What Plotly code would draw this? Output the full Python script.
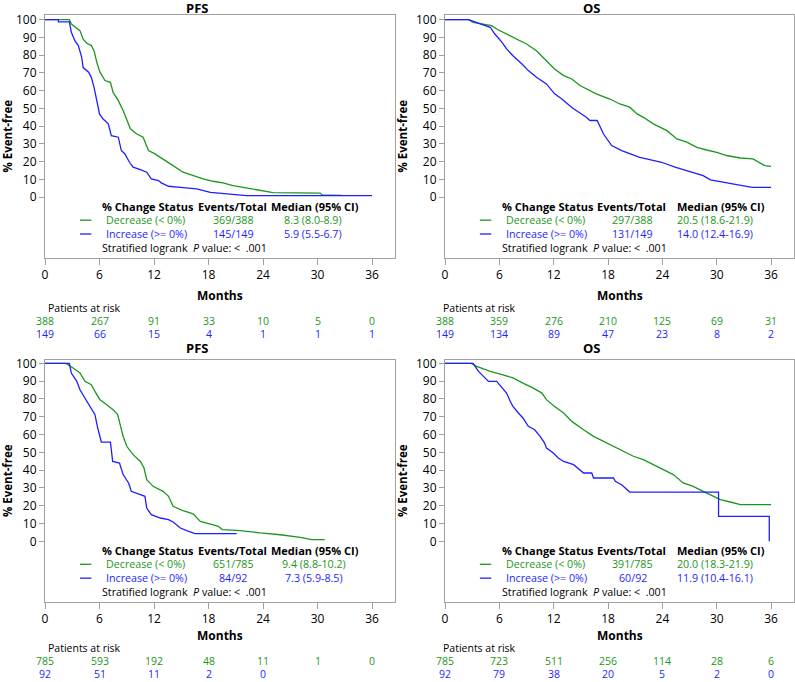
import plotly.graph_objects as go

# ---------------- data ----------------
months_ticks = [0, 6, 12, 18, 24, 30, 36]
pct_ticks = [0, 10, 20, 30, 40, 50, 60, 70, 80, 90, 100]
group_labels = ["Decrease (&lt; 0%)", "Increase (&gt;= 0%)"]
panel_titles = ["PFS", "OS", "PFS", "OS"]

# Panel 1: top-left PFS
p1_dec_t = [0, 2.68, 2.9, 3.85, 4.2, 4.6, 5.1, 5.4, 5.7, 6.05, 6.6, 7.2, 7.5, 8.07, 8.6, 9.06, 9.4, 10.1, 10.8, 11.1, 11.4,
            12.1, 13.0, 14.1, 15.2, 16.3, 17.4, 18.5, 19.6, 20.7, 21.8, 22.9, 24.0, 25.1, 30.3, 30.5, 32.7]
p1_dec_s = [100, 100, 97.5, 93.8, 89, 86.7, 85.4, 82.5, 76, 70.4, 65.7, 64.7, 59, 54.4, 48.8, 43, 38.5, 35.6, 33.8, 30, 26.3,
            24.4, 21.6, 17.8, 14.1, 12.2, 10.3, 9, 8.1, 6.6, 5.6, 4.3, 3.2, 2.6, 2.3, 1.3, 1.1]
p1_inc_t = [0, 1.47, 1.47, 2.68, 2.9, 3.3, 3.67, 4.04, 4.2, 4.8, 5.1, 5.4, 5.7, 6.0, 6.4, 6.97, 7.3, 8.07, 8.4, 8.8, 9.3,
            9.7, 10.5, 11.2, 11.7, 12.5, 12.8, 13.6, 14.9, 16.7, 18.2, 20.0, 22.2, 36.0]
p1_inc_s = [100, 100, 98.7, 98.7, 92.9, 88, 85.4, 78.8, 73, 70.4, 67.5, 61.9, 54.4, 46.9, 44, 41.3, 34.7, 33.8, 26.3, 24.4, 19.7,
            16.9, 15.6, 14.1, 10.3, 9.4, 8.1, 6.2, 5.6, 4.7, 2.8, 1.9, 0.9, 0.9]

# Panel 2: top-right OS
p2_dec_t = [0, 2.6, 3.1, 4.2, 5.15, 5.7, 6.8, 7.9, 9.0, 10.1, 11.2, 12.1, 13.1, 14.0, 14.9, 16.0, 16.7, 18.2, 19.3, 20.4,
            21.2, 21.9, 23.0, 24.5, 25.6, 26.7, 27.8, 28.9, 30.0, 31.1, 32.6, 34.0, 34.6, 35.3, 36.0]
p2_dec_s = [100, 100, 98.5, 97.6, 96.6, 94.7, 91.9, 89.1, 86.3, 82.5, 76.9, 72.2, 68.5, 66.6, 62.9, 60, 58.2, 55.3, 52.5, 50.7,
            46.9, 45, 41.3, 37.5, 32.8, 31, 28.1, 26.6, 25.3, 23.5, 22.1, 21.6, 19.7, 17.8, 17.4]
p2_inc_t = [0, 2.6, 3.9, 5.0, 5.5, 6.3, 6.8, 7.5, 8.5, 9.2, 10.1, 11.2, 12.1, 12.9, 14.0, 14.8, 15.6, 16.0, 16.8, 17.5,
            18.4, 19.5, 20.4, 21.5, 22.6, 23.9, 25.4, 27.4, 28.5, 29.3, 32.2, 33.9, 36.0]
p2_inc_s = [100, 100, 97.6, 95.7, 91.9, 87.2, 83.5, 79.7, 75, 71.3, 67.5, 63.8, 58.2, 55.3, 50.5, 47.8, 45, 43.2, 43.2, 35.6,
            29.1, 26.3, 24.4, 22.5, 21.2, 19.7, 16.9, 14.1, 12.2, 9.8, 6.9, 5.6, 5.6]

# Panel 3: bottom-left PFS
p3_dec_t = [0, 2.3, 3.1, 3.85, 4.4, 5.1, 5.5, 6.05, 6.8, 7.5, 8.0, 8.3, 8.6, 9.0, 9.7, 10.5, 10.9, 11.2, 11.9, 13.0, 13.6,
            14.1, 15.2, 16.3, 17.1, 18.2, 19.1, 19.5, 21.5, 23.7, 25.9, 28.1, 29.4, 30.8]
p3_dec_s = [100, 100, 97.4, 94.6, 89.9, 88, 84.3, 79.6, 76.8, 74, 71.2, 65.5, 59, 53.4, 48.7, 44.9, 41.2, 34.6, 30.9, 28.1, 25.3,
            19.7, 17.2, 15.4, 11.2, 9.7, 8.4, 6.6, 6.0, 4.7, 3.7, 2.2, 0.9, 0.9]
p3_inc_t = [0, 2.68, 2.9, 3.5, 3.85, 4.4, 5.0, 5.5, 5.8, 6.05, 6.2, 7.2, 7.45, 8.2, 8.6, 9.2, 9.5, 10.5, 11.0, 11.2, 11.7,
            12.7, 13.6, 14.1, 14.9, 15.6, 16.5, 21.1]
p3_inc_s = [100, 100, 94.6, 89.9, 85.2, 80.5, 74.9, 71.2, 63.7, 58, 55.8, 55.8, 44.9, 44, 37.5, 32.8, 28.1, 26.2, 25.3, 18.7, 15.0,
            13.1, 12.2, 10.9, 7.5, 6.0, 4.3, 4.3]

# Panel 4: bottom-right OS
p4_dec_t = [0, 2.9, 3.5, 5.0, 6.4, 7.5, 8.6, 9.75, 10.7, 11.2, 12.1, 13.1, 14.0, 14.5, 15.3, 16.4, 17.5, 18.6, 19.7, 20.8,
            21.9, 23.0, 24.1, 25.2, 26.3, 27.4, 28.5, 29.3, 30.4, 31.5, 32.6, 36.0]
p4_dec_s = [100, 100, 98.3, 95.5, 93.6, 91.8, 88.9, 86.1, 83.3, 79.6, 75.8, 72.1, 67.4, 65.5, 62.7, 59, 56.2, 53.4, 50.6, 47.8,
            45.9, 43.1, 40.3, 37.5, 32.8, 30.9, 28.1, 26.2, 23.4, 22.1, 20.6, 20.6]
p4_inc_t = [0, 3.1, 3.7, 4.2, 4.8, 5.7, 6.3, 6.8, 7.2, 7.5, 8.1, 8.6, 9.2, 9.9, 10.5, 11.0, 11.2, 11.96, 12.5, 13.1, 14.2,
            14.9, 15.3, 16.2, 16.4, 18.6, 18.8, 19.5, 20.4, 30.2, 30.2, 35.8, 35.8]
p4_inc_s = [100, 100, 95.5, 92.7, 89.9, 89.9, 86.1, 83.3, 78.7, 75.8, 72.1, 69.3, 64.6, 62.7, 59, 55.2, 52.4, 49.6, 46.8, 44.9, 43.1,
            40.3, 38.4, 38.4, 35.6, 35.6, 33.7, 31.8, 27.7, 27.7, 14.0, 14.0, 0]

events_dec = ["369/388", "297/388", "651/785", "391/785"]
events_inc = ["145/149", "131/149", "84/92", "60/92"]
median_dec = ["8.3 (8.0-8.9)", "20.5 (18.6-21.9)", "9.4 (8.8-10.2)", "20.0 (18.3-21.9)"]
median_inc = ["5.9 (5.5-6.7)", "14.0 (12.4-16.9)", "7.3 (5.9-8.5)", "11.9 (10.4-16.1)"]

risk_dec = [
    [388, 267, 91, 33, 10, 5, 0],
    [388, 359, 276, 210, 125, 69, 31],
    [785, 593, 192, 48, 11, 1, 0],
    [785, 723, 511, 256, 114, 28, 6],
]
risk_inc = [
    [149, 66, 15, 4, 1, 1, 1],
    [149, 134, 89, 47, 23, 8, 2],
    [92, 51, 11, 2, 0],
    [92, 79, 38, 20, 5, 2, 0],
]

curves = [
    (p1_dec_t, p1_dec_s, p1_inc_t, p1_inc_s),
    (p2_dec_t, p2_dec_s, p2_inc_t, p2_inc_s),
    (p3_dec_t, p3_dec_s, p3_inc_t, p3_inc_s),
    (p4_dec_t, p4_dec_s, p4_inc_t, p4_inc_s),
]

# ---------------- style / layout ----------------
W, H = 795, 682
GREEN = "rgb(28,150,28)"
BLUE = "rgb(30,30,255)"
FRAME = "#a0a0a0"
FONT = "Open Sans"
FS = 10.7

# pixel geometry of each panel: (plot left, plot right, plot top, plot bottom, panel left, panel top)
geo = [
    (45, 395, 15, 258, 0, 0),
    (445, 794, 15, 258, 395, 0),
    (45, 395, 360, 602, 0, 340),
    (445, 794, 360, 602, 395, 340),
]
yranges = [[-34.2, 102.6], [-34.2, 102.6], [-34.1, 101.9], [-34.1, 101.9]]
med_hdr_x = [29.7, 30.5, 29.7, 30.5]
med_val_x = [29.5, 29.8, 29.6, 29.8]

def px(x):
    return x / W

def py(y):
    return 1 - y / H

fig = go.Figure()
annotations = []
shapes = []
layout = dict(
    width=W, height=H, margin=dict(l=0, r=0, t=0, b=0, autoexpand=False),
    paper_bgcolor="white", plot_bgcolor="white", showlegend=False,
    font=dict(family=FONT, size=FS, color="black"),
)

def ann(text, x, y, xref="paper", yref="paper", size=FS, color="black", xanchor="center",
        yanchor="middle", angle=0):
    annotations.append(dict(text=text, x=x, y=y, xref=xref, yref=yref, showarrow=False,
                            font=dict(family=FONT, size=size, color=color), borderpad=0,
                            xanchor=xanchor, yanchor=yanchor, textangle=angle))

for i in range(4):
    n = "" if i == 0 else str(i + 1)
    xa, ya = "x" + n, "y" + n
    L, R, T, B, PL, PT = geo[i]
    dt, ds, it, is_ = curves[i]
    fig.add_trace(go.Scatter(x=dt, y=ds, mode="lines", line=dict(color=GREEN, width=1.3),
                             xaxis=xa, yaxis=ya, hoverinfo="skip"))
    fig.add_trace(go.Scatter(x=it, y=is_, mode="lines", line=dict(color=BLUE, width=1.3),
                             xaxis=xa, yaxis=ya, hoverinfo="skip"))
    layout["xaxis" + n] = dict(
        domain=[px(L), px(R)], range=[0, 38.53], anchor=ya, automargin=False,
        tickvals=months_ticks, ticktext=[str(v) for v in months_ticks],
        ticks="outside", ticklen=6, tickcolor=FRAME, showline=True, linecolor=FRAME,
        linewidth=1, mirror=True, showgrid=False, zeroline=False,
        tickfont=dict(family=FONT, size=12, color="black"),
    )
    layout["yaxis" + n] = dict(
        domain=[py(B), py(T)], range=yranges[i], anchor=xa, automargin=False,
        tickvals=pct_ticks, ticktext=[str(v) for v in pct_ticks],
        ticks="outside", ticklen=5, tickcolor=FRAME, showline=True, linecolor=FRAME,
        linewidth=1, mirror=True, showgrid=False, zeroline=False,
        tickfont=dict(family=FONT, size=12, color="black"),
    )
    # titles
    ann("<b>" + panel_titles[i] + "</b>", px(PL + 197), py(PT + 8), size=13)
    ann("<b>% Event-free</b>", px(PL + 7), py((T + B) / 2), size=11.5, angle=-90)
    ann("<b>Months</b>", px((L + R) / 2), py(PT + 295), size=12)
    # in-plot legend table
    ann("<b>% Change Status</b>", 6.2, -5.1, xa, ya, size=11, xanchor="left")
    ann("<b>Events/Total</b>", 20.6, -5.1, xa, ya, size=11)
    ann("<b>Median (95% CI)</b>", med_hdr_x[i], -5.1, xa, ya, size=11)
    ann(group_labels[0], 6.6, -12.9, xa, ya, color=GREEN, xanchor="left")
    ann(group_labels[1], 6.6, -20.7, xa, ya, color=BLUE, xanchor="left")
    ann(events_dec[i], 20.7, -12.9, xa, ya, color=GREEN)
    ann(events_inc[i], 20.7, -20.7, xa, ya, color=BLUE)
    ann(median_dec[i], med_val_x[i], -12.9, xa, ya, color=GREEN)
    ann(median_inc[i], med_val_x[i], -20.7, xa, ya, color=BLUE)
    ann("Stratified logrank  <i>P</i> value: &lt;  .001", 6.2, -28.7, xa, ya, xanchor="left")
    shapes.append(dict(type="line", xref=xa, yref=ya, x0=3.85, x1=5.1, y0=-12.9, y1=-12.9,
                       line=dict(color=GREEN, width=1.3)))
    shapes.append(dict(type="line", xref=xa, yref=ya, x0=3.85, x1=5.1, y0=-20.7, y1=-20.7,
                       line=dict(color=BLUE, width=1.3)))
    # risk table
    ann("Patients at risk", px(PL + 47), py(PT + 308), size=10.5, xanchor="left")
    for m, v in zip(months_ticks, risk_dec[i]):
        ann(str(v), m, py(PT + 321), xa, "paper", size=10.5, color=GREEN)
    for m, v in zip(months_ticks, risk_inc[i]):
        ann(str(v), m, py(PT + 334), xa, "paper", size=10.5, color=BLUE)

layout["annotations"] = annotations
layout["shapes"] = shapes
fig.update_layout(**layout)
fig.write_html("out.html", config={"displayModeBar": False},
               post_script="document.body.style.margin='0px';document.body.style.padding='0px';")
